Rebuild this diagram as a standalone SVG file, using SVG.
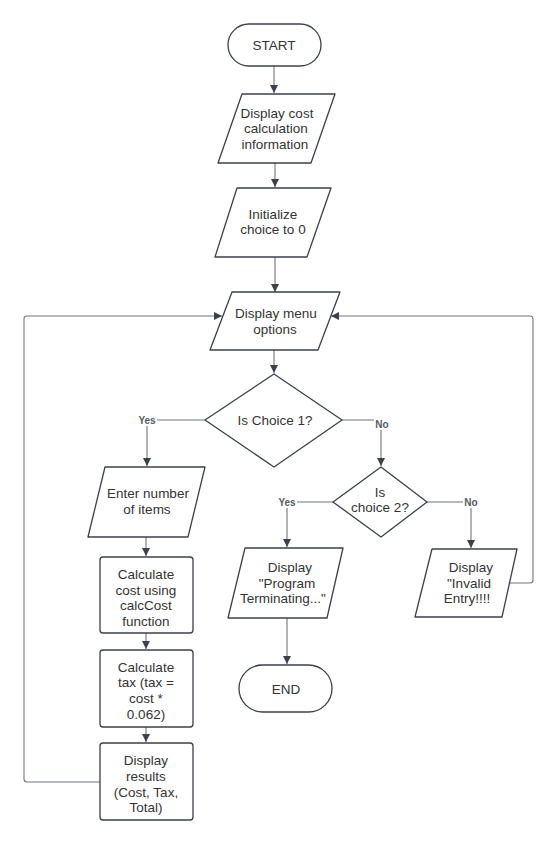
<svg xmlns="http://www.w3.org/2000/svg" width="557" height="844" viewBox="0 0 557 844">
<defs>
<style>
.s{fill:#ffffff;stroke:#3a414a;stroke-width:1.3;stroke-linejoin:round}
.t{font-family:"Liberation Sans",Arial,sans-serif;font-size:13.5px;fill:#333333;text-anchor:middle}
.c{fill:none;stroke:#6f767e;stroke-width:1.1}
.l{font-family:"Liberation Sans",Arial,sans-serif;font-size:10px;font-weight:bold;fill:#555b62;text-anchor:middle}
.lb{fill:#ffffff}
</style>
<marker id="ah" viewBox="0 0 10 10" refX="10" refY="5" markerWidth="8" markerHeight="8" markerUnits="userSpaceOnUse" orient="auto">
<path d="M0,0 L10,5 L0,10 z" fill="#3a414a"/>
</marker>
</defs>
<rect width="557" height="844" fill="#ffffff"/>
<g id="connectors">
<path class="c" marker-end="url(#ah)" d="M274,66 V93"/>
<path class="c" marker-end="url(#ah)" d="M275,163 V187"/>
<path class="c" marker-end="url(#ah)" d="M275,257 V292"/>
<path class="c" marker-end="url(#ah)" d="M274,350 V373"/>
<path class="c" marker-end="url(#ah)" d="M205,420 H147 V466"/>
<path class="c" marker-end="url(#ah)" d="M342,420 H381 V466"/>
<path class="c" marker-end="url(#ah)" d="M333,502 H287 V547"/>
<path class="c" marker-end="url(#ah)" d="M427,502 H471 V548"/>
<path class="c" marker-end="url(#ah)" d="M146,537 V556"/>
<path class="c" marker-end="url(#ah)" d="M146,633 V649"/>
<path class="c" marker-end="url(#ah)" d="M146,727 V742"/>
<path class="c" marker-end="url(#ah)" d="M100,782 H27 Q24,782 24,779 V319 Q24,316 27,316 H222"/>
<path class="c" marker-end="url(#ah)" d="M509,583 H530 Q533,583 533,580 V319 Q533,316 530,316 H331"/>
<path class="c" marker-end="url(#ah)" d="M287,618 V664"/>
<rect class="lb" x="137" y="414" width="20" height="12"/>
<text class="l" x="147" y="424">Yes</text>
<rect class="lb" x="374" y="418" width="16" height="12"/>
<text class="l" x="382" y="428">No</text>
<rect class="lb" x="277" y="496" width="20" height="12"/>
<text class="l" x="287" y="506">Yes</text>
<rect class="lb" x="463" y="496" width="16" height="12"/>
<text class="l" x="471" y="506">No</text>
</g>
<g id="start">
<rect class="s" x="228" y="24" width="93" height="42" rx="21"/>
<text class="t" x="274" y="50">START</text>
</g>
<g id="display-info">
<path class="s" d="M242,94 H335 L311,163 H218 Z"/>
<text class="t" x="277" y="118">Display cost</text>
<text class="t" x="276" y="133">calculation</text>
<text class="t" x="275" y="149">information</text>
</g>
<g id="init-choice">
<path class="s" d="M237,188 H331 L307,257 H215 Z"/>
<text class="t" x="273" y="219">Initialize</text>
<text class="t" x="273" y="234">choice to 0</text>
</g>
<g id="display-menu">
<path class="s" d="M232,292 H340 L318,350 H210 Z"/>
<text class="t" x="276" y="318">Display menu</text>
<text class="t" x="275" y="334">options</text>
</g>
<g id="is-choice-1">
<path class="s" d="M274,374 L342,420 L274,467 L205,420 Z"/>
<text class="t" x="275" y="425">Is Choice 1?</text>
</g>
<g id="is-choice-2">
<path class="s" d="M381,467 L427,502 L381,537 L333,502 Z"/>
<text class="t" x="380" y="497">Is</text>
<text class="t" x="380" y="512">choice 2?</text>
</g>
<g id="enter-items">
<path class="s" d="M105,467 H205 L188,537 H88 Z"/>
<text class="t" x="148" y="498">Enter number</text>
<text class="t" x="147" y="514">of items</text>
</g>
<g id="calc-cost">
<rect class="s" x="100" y="557" width="93" height="76" rx="3"/>
<text class="t" x="146" y="579">Calculate</text>
<text class="t" x="146" y="595">cost using</text>
<text class="t" x="146" y="610">calcCost</text>
<text class="t" x="146" y="626">function</text>
</g>
<g id="calc-tax">
<rect class="s" x="100" y="650" width="93" height="77" rx="3"/>
<text class="t" x="146" y="672">Calculate</text>
<text class="t" x="146" y="687">tax (tax =</text>
<text class="t" x="146" y="703">cost *</text>
<text class="t" x="146" y="719">0.062)</text>
</g>
<g id="display-results">
<rect class="s" x="100" y="743" width="93" height="77" rx="3"/>
<text class="t" x="146" y="765">Display</text>
<text class="t" x="146" y="781">results</text>
<text class="t" x="146" y="797">(Cost, Tax,</text>
<text class="t" x="146" y="812">Total)</text>
</g>
<g id="program-terminating">
<path class="s" d="M245,548 H343 L327,618 H228 Z"/>
<text class="t" x="290" y="572">Display</text>
<text class="t" x="287" y="588">"Program</text>
<text class="t" x="283" y="603">Terminating..."</text>
</g>
<g id="invalid-entry">
<path class="s" d="M432,549 H517 L502,617 H415 Z"/>
<text class="t" x="471" y="572">Display</text>
<text class="t" x="469" y="588">"Invalid</text>
<text class="t" x="467" y="603">Entry!!!!</text>
</g>
<g id="end">
<rect class="s" x="239" y="665" width="93" height="47" rx="23.5"/>
<text class="t" x="286" y="694">END</text>
</g>
</svg>
